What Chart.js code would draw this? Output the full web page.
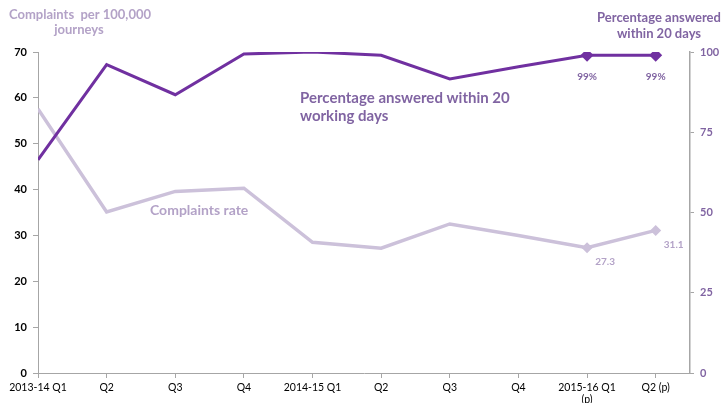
<!DOCTYPE html>
<html>
<head>
<meta charset="utf-8">
<script src="https://cdn.jsdelivr.net/npm/chart.js@4/dist/chart.umd.min.js"></script>
<style>
  html, body { margin: 0; padding: 0; background: #fff; }
  #wrap { width: 724px; height: 403px; position: relative; }
</style>
</head>
<body>
<div id="wrap"><canvas id="c" width="724" height="403"></canvas></div>
<script>
const categories = ['2013-14 Q1', 'Q2', 'Q3', 'Q4', '2014-15 Q1', 'Q2', 'Q3', 'Q4', ['2015-16 Q1', '(p)'], 'Q2 (p)'];
const complaintsRate = [57.6, 35.1, 39.6, 40.3, 28.5, 27.2, 32.5, 30.0, 27.3, 31.1];
const pctAnswered = [66.4, 96.1, 86.7, 99.4, 100, 99.0, 91.6, 95.4, 99, 99];
const leftTicks = [0, 10, 20, 30, 40, 50, 60, 70];
const rightTicks = [0, 25, 50, 75, 100];
const complaintsLabels = { 8: '27.3', 9: '31.1' };
const pctLabels = { 8: '99%', 9: '99%' };

const DARK = '#7030A0';
const LILAC = '#CCC1DA';
const LILAC_TEXT = '#B3A2C7';
const PURPLE_TEXT = '#8064A2';
const AXIS = '#A6A6A6';
const FONT = 'Lato, "Open Sans", sans-serif';

const toPts = arr => arr.map((v, i) => ({ x: i, y: v }));
const lastTwo = (n, r) => categories.map((_, i) => (i >= categories.length - 2 ? r : 0));

const textPlugin = {
  id: 'texts',
  afterDraw(chart) {
    const ctx = chart.ctx;
    ctx.save();
    ctx.textBaseline = 'middle';
    // axis titles
    ctx.font = 'bold 13px ' + FONT;
    ctx.fillStyle = LILAC_TEXT;
    ctx.textAlign = 'center';
    ctx.fillText('Complaints  per 100,000', 80, 15);
    ctx.fillText('journeys', 79, 30);
    ctx.fillStyle = PURPLE_TEXT;
    ctx.fillText('Percentage answered', 659, 18);
    ctx.fillText('within 20 days', 659, 34);
    // series labels
    ctx.textAlign = 'left';
    ctx.font = 'bold 15px ' + FONT;
    ctx.fillStyle = PURPLE_TEXT;
    ctx.fillText('Percentage answered within 20', 300, 98);
    ctx.fillText('working days', 300, 116);
    ctx.font = 'bold 14px ' + FONT;
    ctx.fillStyle = LILAC_TEXT;
    ctx.fillText('Complaints rate', 150, 210);
    // data labels
    ctx.font = 'bold 10px ' + FONT;
    ctx.textAlign = 'center';
    const m0 = chart.getDatasetMeta(0);
    const m1 = chart.getDatasetMeta(1);
    ctx.fillStyle = PURPLE_TEXT;
    Object.keys(pctLabels).forEach(k => {
      const p = m0.data[k];
      ctx.fillText(pctLabels[k], p.x, p.y + 22);
    });
    ctx.fillStyle = LILAC_TEXT;
    Object.keys(complaintsLabels).forEach(k => {
      const p = m1.data[k];
      ctx.fillText(complaintsLabels[k], p.x + 18, p.y + 14);
    });
    ctx.restore();
  }
};

new Chart(document.getElementById('c'), {
  type: 'line',
  data: {
    datasets: [
      {
        label: 'Percentage answered within 20 working days',
        data: toPts(pctAnswered),
        yAxisID: 'y1',
        borderColor: DARK,
        backgroundColor: DARK,
        borderWidth: 3,
        pointStyle: 'rectRot',
        pointRadius: lastTwo(categories.length, 6.5),
        pointBorderWidth: 0,
        tension: 0
      },
      {
        label: 'Complaints rate',
        data: toPts(complaintsRate),
        yAxisID: 'y',
        borderColor: LILAC,
        backgroundColor: LILAC,
        borderWidth: 3.5,
        pointStyle: 'rectRot',
        pointRadius: lastTwo(categories.length, 5.5),
        pointBorderWidth: 0,
        tension: 0
      }
    ]
  },
  options: {
    responsive: false,
    animation: false,
    layout: { padding: { top: 52, left: 0, right: 0, bottom: 0 } },
    plugins: { legend: { display: false }, tooltip: { enabled: false } },
    scales: {
      x: {
        type: 'linear',
        min: 0,
        max: 9.5,
        afterBuildTicks: s => { s.ticks = categories.map((_, i) => ({ value: i })); },
        afterFit: s => { s.height = 30; },
        grid: { display: true, drawOnChartArea: false, tickLength: 5, color: AXIS },
        border: { color: AXIS, width: 1 },
        ticks: {
          autoSkip: false,
          maxRotation: 0,
          minRotation: 0,
          padding: 3,
          color: '#000',
          font: { family: FONT, size: 10.5 },
          callback: v => categories[v] ?? ''
        }
      },
      y: {
        position: 'left',
        min: 0,
        max: 70,
        afterBuildTicks: s => { s.ticks = leftTicks.map(v => ({ value: v })); },
        afterFit: s => { s.width = 38; },
        grid: { display: true, drawOnChartArea: false, tickLength: 5, color: AXIS },
        border: { color: AXIS, width: 1 },
        ticks: { color: '#000', padding: 6, font: { family: FONT, size: 11, weight: 'bold' } }
      },
      y1: {
        position: 'right',
        min: 0,
        max: 100,
        afterBuildTicks: s => { s.ticks = rightTicks.map(v => ({ value: v })); },
        afterFit: s => { s.width = 34; },
        grid: { display: true, drawOnChartArea: false, tickLength: 4, color: AXIS },
        border: { color: AXIS, width: 1.5 },
        ticks: { color: PURPLE_TEXT, padding: 6, font: { family: FONT, size: 11, weight: 'bold' } }
      }
    }
  },
  plugins: [textPlugin]
});
</script>
</body>
</html>
